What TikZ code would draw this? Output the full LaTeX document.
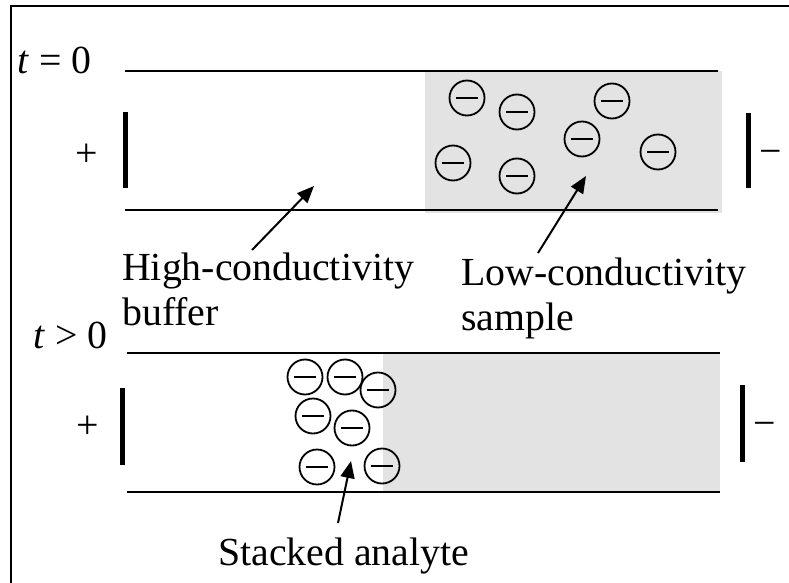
\documentclass[tikz,border=0pt]{standalone}
\usepackage{fontspec}
\setmainfont{Liberation Serif}
\usetikzlibrary{arrows.meta}
\definecolor{samplegray}{HTML}{E3E3E3}
\begin{document}
\begin{tikzpicture}[x=1pt,y=-1pt,
  lbl/.style={inner sep=0pt,anchor=base west,font=\fontsize{39.8}{45}\selectfont,align=left},
  wall/.style={line width=2.8pt},
  electrode/.style={line width=5pt},
  ion/.style={circle,draw,line width=1.8pt,minimum size=35pt,inner sep=0pt,
    path picture={\draw[line width=1.6pt] ([xshift=-11pt]path picture bounding box.center) -- ++(22pt,0);}},
  pointer/.style={line width=2pt,-{Triangle[length=17pt,width=14pt]}}]
\useasboundingbox (0,0) rectangle (789,583);
% frame
\draw[line width=2pt] (11,583) -- (11,6) -- (789,6);
% ---- t = 0 ----
\fill[samplegray] (425,71) rectangle (722,213);
\draw[wall] (125,71) -- (718,71);
\draw[wall] (125,210) -- (718,210);
\draw[electrode] (125,112) -- (125,188);
\draw[electrode] (748,113) -- (748,188);
\node[lbl] (t0) at (17,74) {\textit{t} = 0};
\node[lbl,anchor=center] (plus1) at (87,155) {+};
\node[lbl,anchor=center] (minus1) at (771,157) {−};
\node[ion] (a1) at (467,98) {};
\node[ion] (a2) at (517,112) {};
\node[ion] (a3) at (612,101) {};
\node[ion] (a4) at (582,139) {};
\node[ion] (a5) at (453,163) {};
\node[ion] (a6) at (517,176) {};
\node[ion] (a7) at (658,152) {};
\node[lbl] (buf) at (122,325) {High-conductivity\\buffer};
\node[lbl] (smp) at (461,330) {Low-conductivity\\sample};
\coordinate (buftail) at (252,250);
\coordinate (buftip) at (314,186);
\coordinate (smptail) at (538,253);
\coordinate (smptip) at (586,176);
\draw[pointer] (buftail) -- (buftip);
\draw[pointer] (smptail) -- (smptip);
% ---- t > 0 ----
\fill[samplegray] (383,353) rectangle (720,492);
\draw[wall] (127,353) -- (720,353);
\draw[wall] (127,492) -- (720,492);
\draw[electrode] (122,388) -- (122,465);
\draw[electrode] (742,385) -- (742,462);
\node[lbl] (t1) at (33,348) {\textit{t} > 0};
\node[lbl,anchor=center] (plus2) at (88,427) {+};
\node[lbl,anchor=center] (minus2) at (765,429) {−};
\node[ion] (b1) at (305,377) {};
\node[ion] (b2) at (345,377) {};
\node[ion] (b3) at (378,390) {};
\node[ion] (b4) at (313,416) {};
\node[ion] (b5) at (352,428) {};
\node[ion] (b6) at (317,467) {};
\node[ion] (b7) at (382,466) {};
\node[lbl] (stk) at (218,565) {Stacked analyte};
\coordinate (stktail) at (338,523);
\coordinate (stktip) at (351,461);
\draw[pointer] (stktail) -- (stktip);
\end{tikzpicture}
\end{document}
